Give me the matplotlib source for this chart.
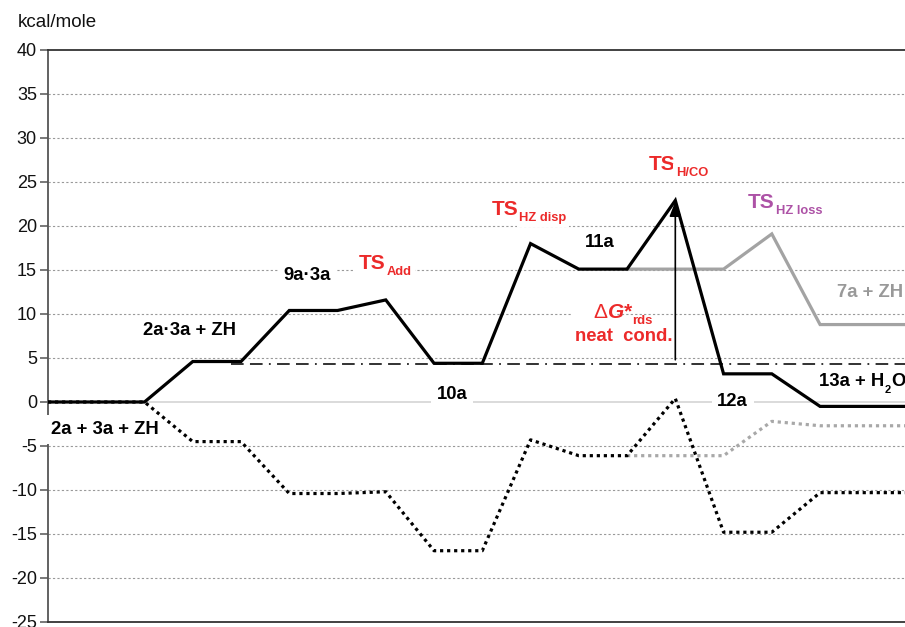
import matplotlib.pyplot as plt
import numpy as np

plt.rcParams['font.family'] = ['Liberation Sans', 'DejaVu Sans']
plt.rcParams['axes.unicode_minus'] = False

# Reaction coordinate positions (category slots) and energies, kcal/mole
x_path = [0, 2, 3, 4, 5, 6, 7, 8, 9, 10, 11, 12, 13, 14, 15, 16, 18]
g_neat = [0, 0, 4.6, 4.6, 10.4, 10.4, 11.6, 4.4, 4.4, 18.0, 15.1, 15.1, 22.9, 3.2, 3.2, -0.5, -0.5]
g_other = [0, 0, -4.5, -4.5, -10.4, -10.4, -10.2, -16.9, -16.9, -4.3, -6.1, -6.1, 0.4, -14.8, -14.8, -10.3, -10.3]

# Alternative branch (HZ loss) from 11a
x_alt = [12, 14, 15, 16, 18]
g_alt_neat = [15.1, 15.1, 19.1, 8.8, 8.8]
g_alt_other = [-6.1, -6.1, -2.2, -2.7, -2.7]

# reference level for the rate determining step
ref_level = 4.35
ref_start = 3.8
arrow_from = 4.8
arrow_to = 22.8
arrow_x = 13

y_ticks = list(range(-25, 41, 5))

colors = {
    'red': '#ec2a2a',
    'purple': '#ad52a6',
    'gray_line': '#a3a3a3',
    'gray_text': '#999999',
    'grid': '#999999',
    'spine': '#555555',
}

fig = plt.figure(figsize=(9.05, 6.27), dpi=100)
ax = fig.add_axes([48 / 905, 5 / 627, 857 / 905, 572 / 627])
ax.set_xlim(0, 17.76)
ax.set_ylim(-25, 40)

# grid
for v in y_ticks:
    if v in (-25, 40):
        continue
    if v == 0:
        ax.axhline(v, color='#dadada', lw=1.4, zorder=0)
    else:
        ax.axhline(v, color=colors['grid'], lw=0.8, ls=(0, (2, 2)), zorder=0)

# energy profiles
ax.plot(x_alt, g_alt_neat, color=colors['gray_line'], lw=2.3, zorder=4, solid_joinstyle='miter')
ax.plot(x_alt, g_alt_other, color='#a8a8a8', lw=2.3, ls=(0, (1, 1.2)), zorder=4)
ax.plot(x_path, g_neat, color='black', lw=2.3, zorder=5, solid_joinstyle='miter')
ax.plot(x_path, g_other, color='black', lw=2.3, ls=(0, (1, 1.2)), zorder=5)

ax.plot([ref_start, 18], [ref_level, ref_level], color='#222222', lw=1.3,
        ls=(0, (7, 3.5, 7, 3.5, 1, 3.5)), zorder=3)

ax.annotate('', xy=(arrow_x, arrow_to), xytext=(arrow_x, arrow_from),
            arrowprops=dict(arrowstyle='-|>,head_length=0.9,head_width=0.35',
                            color='black', lw=1.2, shrinkA=0, shrinkB=0), zorder=6)

box = dict(facecolor='white', edgecolor='none', pad=4)
LBL = 13.3
TSZ = 15


def label(x, y, main, sub=None, color='black', size=LBL, sub_dy=-1.5):
    t = ax.text(x, y, main, ha='left', va='baseline', fontsize=size, fontweight='bold',
                color=color, bbox=box, zorder=3)
    if sub:
        ax.annotate(sub, xy=(1, 0), xycoords=t, xytext=(0.5, sub_dy), textcoords='offset points',
                    ha='left', va='baseline', fontsize=size * 0.62, fontweight='bold',
                    color=color, bbox=dict(facecolor='white', edgecolor='none', pad=2), zorder=3)
    return t


label(0.056, -3.64, '2a + 3a + ZH')
label(1.97, 7.6, '2a\u00b73a + ZH')
label(4.88, 13.86, '9a\u00b73a')
label(6.45, 15.1, 'TS', 'Add', color=colors['red'], size=TSZ)
label(8.06, 0.34, '10a')
label(9.2, 21.25, 'TS', 'HZ disp', color=colors['red'], size=TSZ)
label(11.13, 17.58, '11a')
label(12.44, 26.36, 'TS', 'H/CO', color=colors['red'], size=TSZ)
label(14.51, 22.1, 'TS', 'HZ loss', color=colors['purple'], size=TSZ)
label(16.35, 11.97, '7a + ZH', color=colors['gray_text'])
label(13.87, -0.45, '12a')
t13 = label(15.98, 1.82, '13a + H')
ax.annotate('2', xy=(1, 0), xycoords=t13, xytext=(0, -2.5), textcoords='offset points',
            ha='left', va='baseline', fontsize=8, fontweight='bold', zorder=3)
ax.annotate('O', xy=(1, 0), xycoords=t13, xytext=(5, 0), textcoords='offset points',
            ha='left', va='bottom', fontsize=LBL, fontweight='bold', zorder=3)

# Delta G* rds label on a white box
ax.text(11.24, 7.9, ' ', fontsize=LBL, bbox=dict(facecolor='white', edgecolor='none', pad=14), zorder=2)
td = ax.text(11.3, 9.5, '\u0394', ha='left', va='baseline', fontsize=TSZ,
             color=colors['red'], zorder=3)
tg = ax.annotate('G*', xy=(1, 0), xycoords=td, xytext=(0.5, 0), textcoords='offset points',
                 ha='left', va='bottom', fontsize=TSZ, fontweight='bold', fontstyle='italic',
                 color=colors['red'], zorder=3)
ax.annotate('rds', xy=(1, 0), xycoords=tg, xytext=(0, -1.5), textcoords='offset points',
            ha='left', va='baseline', fontsize=9.5, fontweight='bold', color=colors['red'], zorder=4)
ax.text(10.92, 6.97, 'neat  cond.', ha='left', va='baseline', fontsize=LBL, fontweight='bold',
        color=colors['red'], zorder=3)

fig.text(18 / 905, 1 - 27 / 627, 'kcal/mole', ha='left', va='baseline', fontsize=13.5, color='#111111')

# axes styling
ax.set_xticks([])
ax.set_yticks(y_ticks)
ax.tick_params(axis='y', direction='out', length=6, width=1.1, color=colors['spine'],
               labelsize=13, pad=2, labelcolor='#111111')
ax.spines['right'].set_visible(False)
ax.spines['left'].set_color(colors['spine'])
ax.spines['left'].set_linewidth(1.3)
ax.spines['top'].set_color('#333333')
ax.spines['top'].set_linewidth(1.3)
ax.spines['bottom'].set_color('#333333')
ax.spines['bottom'].set_linewidth(1.3)

plt.savefig('out.png', dpi=100)
plt.close()
